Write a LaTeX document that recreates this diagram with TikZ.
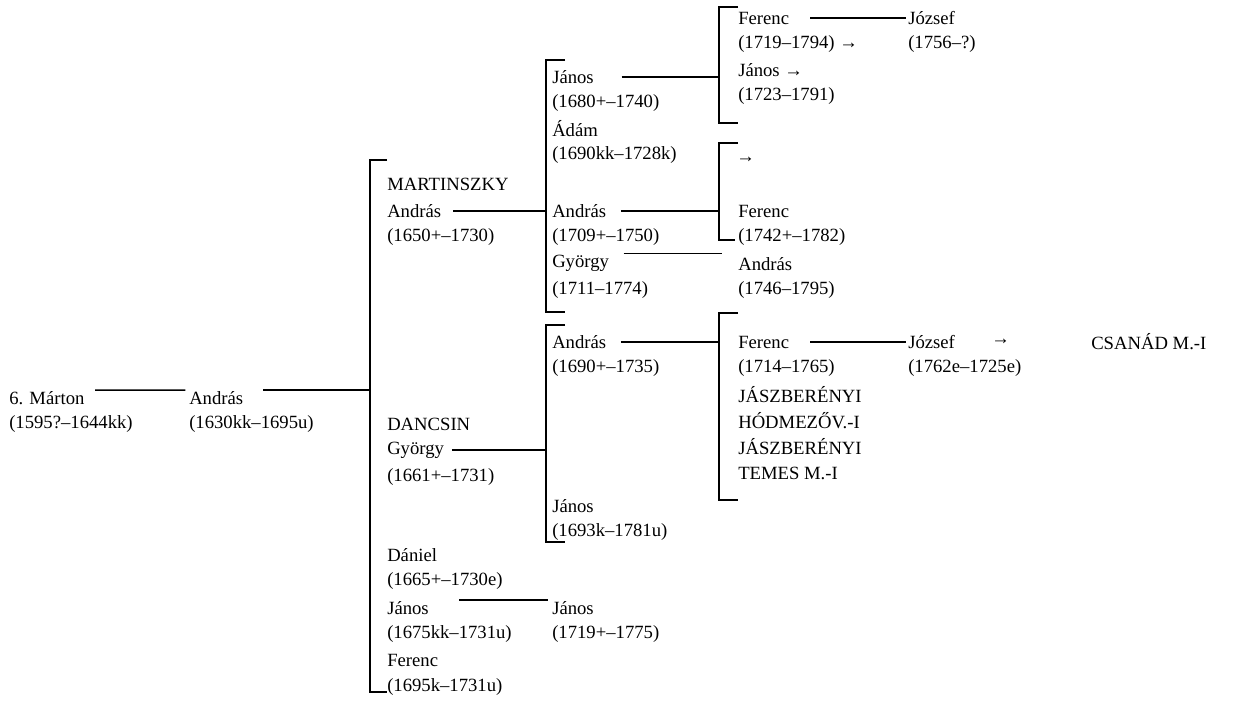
\documentclass[tikz,border=0pt]{standalone}
\usepackage{fontspec}
\setmainfont{Liberation Serif}
\usepackage{tikz}

\begin{document}
\begin{tikzpicture}[x=0.75pt,y=0.75pt,yscale=-1,xscale=1,
	pers/.style={anchor=west,inner sep=0.75pt,font=\fontsize{14}{17}\selectfont},
	link/.style={line width=1pt},
	bracket/.style={line width=1.1pt}]
	%set diagram to 1236 x 702
	\path[use as bounding box] (0,0) rectangle (1236,702);
	
	% Text Node: first two generations
	\node[pers] (marton) at (8,398) {6. Márton};
	\node[pers] (martonD) at (8,424) {(1595?–1644kk)};
	\node[pers] (andras) at (188,398) {András};
	\node[pers] (andrasD) at (188,424) {(1630kk–1695u)};
	
	% Text Node: sons of Andras
	\node[pers] (mrtn) at (386,184) {MARTINSZKY};
	\node[pers] (andM) at (386,211) {András};
	\node[pers] (andMD) at (386,237) {(1650+–1730)};
	\node[pers] (dncs) at (386,424) {DANCSIN};
	\node[pers] (gyoD) at (386,450) {György};
	\node[pers] (gyoDD) at (386,477) {(1661+–1731)};
	\node[pers] (dan) at (386,555) {Dániel};
	\node[pers] (danD) at (386,581) {(1665+–1730e)};
	\node[pers] (janC) at (386,608) {János};
	\node[pers] (janCD) at (386,634) {(1675kk–1731u)};
	\node[pers] (ferC) at (386,660) {Ferenc};
	\node[pers] (ferCD) at (386,687) {(1695k–1731u)};
	
	% Text Node: third generation
	\node[pers] (janM) at (551,77) {János};
	\node[pers] (janMD) at (551,103) {(1680+–1740)};
	\node[pers] (adam) at (551,129) {Ádám};
	\node[pers] (adamD) at (551,155) {(1690kk–1728k)};
	\node[pers] (andN) at (551,211) {András};
	\node[pers] (andND) at (551,237) {(1709+–1750)};
	\node[pers] (gyoN) at (551,263) {György};
	\node[pers] (gyoND) at (551,290) {(1711–1774)};
	\node[pers] (andP) at (551,342) {András};
	\node[pers] (andPD) at (551,368) {(1690+–1735)};
	\node[pers] (janP) at (551,506) {János};
	\node[pers] (janPD) at (551,532) {(1693k–1781u)};
	\node[pers] (janQ) at (551,608) {János};
	\node[pers] (janQD) at (551,634) {(1719+–1775)};
	
	% Text Node: fourth generation
	\node[pers] (ferT) at (737,18) {Ferenc};
	\node[pers] (ferTD) at (737,44) {(1719–1794) →};
	\node[pers] (janT) at (737,70) {János →};
	\node[pers] (janTD) at (737,96) {(1723–1791)};
	\node[pers] (arrT) at (735,160) {→};
	\node[pers] (ferU) at (737,211) {Ferenc};
	\node[pers] (ferUD) at (737,237) {(1742+–1782)};
	\node[pers] (andU) at (737,264) {András};
	\node[pers] (andUD) at (737,290) {(1746–1795)};
	\node[pers] (ferV) at (737,342) {Ferenc};
	\node[pers] (ferVD) at (737,368) {(1714–1765)};
	\node[pers] (jasz) at (737,395) {JÁSZBERÉNYI};
	\node[pers] (hodm) at (737,421) {HÓDMEZŐV.-I};
	\node[pers] (jaszb) at (737,447) {JÁSZBERÉNYI};
	\node[pers] (temes) at (737,473) {TEMES M.-I};
	
	% Text Node: fifth generation
	\node[pers] (jozT) at (907,18) {József};
	\node[pers] (jozTD) at (907,44) {(1756–?)};
	\node[pers] (jozV) at (907,342) {József};
	\node[pers] (jozVD) at (907,368) {(1762e–1725e)};
	\node[pers] (arrV) at (990,342) {→};
	\node[pers] (csanad) at (1090,342) {CSANÁD M.-I};
	
	% Brackets
	\coordinate (b1t) at (370,160); \coordinate (b1b) at (370,692);
	\coordinate (b2t) at (546,60); \coordinate (b2b) at (546,312);
	\coordinate (b2u) at (546,325); \coordinate (b2v) at (546,542);
	\coordinate (b3t) at (719,7); \coordinate (b3b) at (719,123);
	\coordinate (b3u) at (719,143); \coordinate (b3v) at (719,240);
	\coordinate (b3w) at (719,313); \coordinate (b3x) at (719,500);
	\draw[bracket] (b1t) ++(17,0) -- (b1t) -- (b1b) -- ++(17,0);
	\draw[bracket] (b2t) ++(19,0) -- (b2t) -- (b2b) -- ++(19,0);
	\draw[bracket] (b2u) ++(19,0) -- (b2u) -- (b2v) -- ++(19,0);
	\draw[bracket] (b3t) ++(19,0) -- (b3t) -- (b3b) -- ++(19,0);
	\draw[bracket] (b3u) ++(19,0) -- (b3u) -- (b3v) -- ++(16,0);
	\draw[bracket] (b3w) ++(19,0) -- (b3w) -- (b3x) -- ++(19,0);
	
	% Connectors
	\draw[link] ([xshift=7pt]marton.north east) -- ([xshift=-2pt]andras.north west);
	\draw[link] ([xshift=14pt]andras.north east) -- (andras.north east -| b1t);
	\draw[link] ([xshift=8pt]andM.east) -- (andM.east -| b2t);
	\draw[link] ([xshift=5pt]gyoD.east) -- (gyoD.east -| b2u);
	\draw[link] ([xshift=22pt]janC.north east) -- ([xshift=-2pt]janQ.north west);
	\draw[link] ([xshift=20pt]janM.east) -- (janM.east -| b3t);
	\draw[link] ([xshift=10pt]andN.east) -- (andN.east -| b3u);
	\draw[link] ([xshift=10pt]gyoN.north east) -- ([xshift=2pt]gyoN.north east -| b3u);
	\draw[link] ([xshift=10pt]andP.east) -- (andP.east -| b3w);
	\draw[link] ([xshift=15pt]ferT.east) -- ([xshift=-1pt]jozT.west);
	\draw[link] ([xshift=15pt]ferV.east) -- ([xshift=-1pt]jozV.west);
\end{tikzpicture}
\end{document}
